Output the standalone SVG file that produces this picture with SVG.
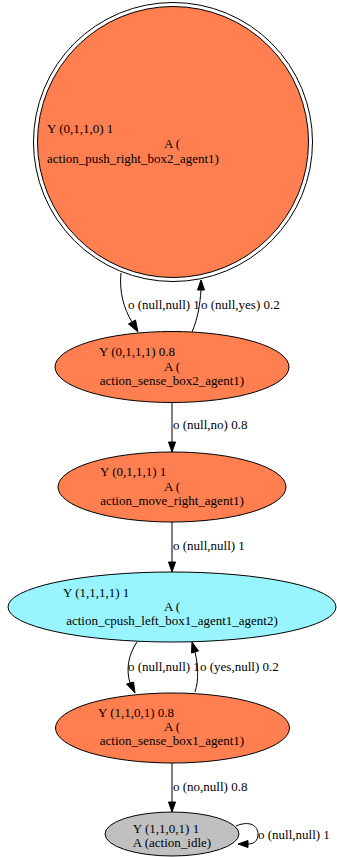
<svg xmlns="http://www.w3.org/2000/svg" width="337" height="857" viewBox="0 0 337 857">
  <style>
    text { font-family: "Liberation Serif", "Times New Roman", serif; font-size: 13px; fill: #000; }
    .mid { text-anchor: middle; }
    .node { stroke: #000; stroke-width: 1; }
    .orange { fill: #ff7f50; }
    .cyan { fill: #98f5ff; }
    .gray { fill: #c0c0c0; }
    .edge { fill: none; stroke: #000; stroke-width: 1; }
    .head { fill: #000; stroke: #000; stroke-width: 1; }
  </style>
  <rect width="337" height="857" fill="#fff"/>

  <!-- connectors -->
  <g id="edges">
    <!-- push_right -> sense_box2 -->
    <path class="edge" d="M121,273 C119,292 124,309 132,322"/>
    <polygon class="head" points="128.5,324 138,332 135.5,320"/>
    <text x="128" y="309">o (null,null) 1</text>

    <!-- sense_box2 -> push_right -->
    <path class="edge" d="M192,332 C198,318 200,304 201,290"/>
    <polygon class="head" points="197.5,290 201,280 204.5,290"/>
    <text x="201" y="309">o (null,yes) 0.2</text>

    <!-- sense_box2 -> move_right -->
    <path class="edge" d="M172,403 L172,442"/>
    <polygon class="head" points="168.5,442 172,452 175.5,442"/>
    <text x="173" y="429">o (null,no) 0.8</text>

    <!-- move_right -> cpush_left -->
    <path class="edge" d="M172,522 L172,562"/>
    <polygon class="head" points="168.5,562 172,572 175.5,562"/>
    <text x="173" y="550">o (null,null) 1</text>

    <!-- cpush_left -> sense_box1 -->
    <path class="edge" d="M137,642 C128,655 126,670 130,683"/>
    <polygon class="head" points="126.5,684 135,693 133.5,682"/>
    <text x="128" y="671">o (null,null) 1</text>

    <!-- sense_box1 -> cpush_left -->
    <path class="edge" d="M195,692 C199,680 198,665 195,652"/>
    <polygon class="head" points="191.5,653 192,642 198.5,651"/>
    <text x="200" y="671">o (yes,null) 0.2</text>

    <!-- sense_box1 -> idle -->
    <path class="edge" d="M172,763 L172,802"/>
    <polygon class="head" points="168.5,802 172,812 175.5,802"/>
    <text x="173" y="791">o (no,null) 0.8</text>

    <!-- idle self loop -->
    <path class="edge" d="M236,826 C250,820 258,826 258,834 C258,841 254,844 248,844"/>
    <polygon class="head" points="248,840.5 238,844 248,847.5"/>
    <text x="258" y="839">o (null,null) 1</text>
  </g>

  <!-- nodes -->
  <g id="n_push_right">
    <circle class="node" cx="173" cy="142" r="139.5" fill="none"/>
    <circle class="node orange" cx="173" cy="142" r="135.5"/>
    <text x="47" y="133">Y (0,1,1,0) 1</text>
    <text class="mid" x="172" y="148">A (</text>
    <text x="47" y="163">action_push_right_box2_agent1)</text>
  </g>

  <g id="n_sense_box2">
    <ellipse class="node orange" cx="172" cy="367" rx="117" ry="35.5"/>
    <text x="99" y="356">Y (0,1,1,1) 0.8</text>
    <text class="mid" x="172" y="371">A (</text>
    <text class="mid" x="172" y="385">action_sense_box2_agent1)</text>
  </g>

  <g id="n_move_right">
    <ellipse class="node orange" cx="172" cy="487" rx="114" ry="35"/>
    <text x="100" y="476">Y (0,1,1,1) 1</text>
    <text class="mid" x="172" y="491">A (</text>
    <text class="mid" x="172" y="505">action_move_right_agent1)</text>
  </g>

  <g id="n_cpush_left">
    <ellipse class="node cyan" cx="172" cy="607" rx="164" ry="35"/>
    <text x="63" y="597">Y (1,1,1,1) 1</text>
    <text class="mid" x="172" y="611">A (</text>
    <text class="mid" x="172" y="625">action_cpush_left_box1_agent1_agent2)</text>
  </g>

  <g id="n_sense_box1">
    <ellipse class="node orange" cx="172.5" cy="728" rx="117" ry="35"/>
    <text x="98" y="717">Y (1,1,0,1) 0.8</text>
    <text class="mid" x="172" y="731">A (</text>
    <text class="mid" x="172" y="745">action_sense_box1_agent1)</text>
  </g>

  <g id="n_idle">
    <ellipse class="node gray" cx="172" cy="834" rx="67" ry="22"/>
    <text class="mid" x="166" y="833">Y (1,1,0,1) 1</text>
    <text class="mid" x="172" y="847">A (action_idle)</text>
  </g>
</svg>
